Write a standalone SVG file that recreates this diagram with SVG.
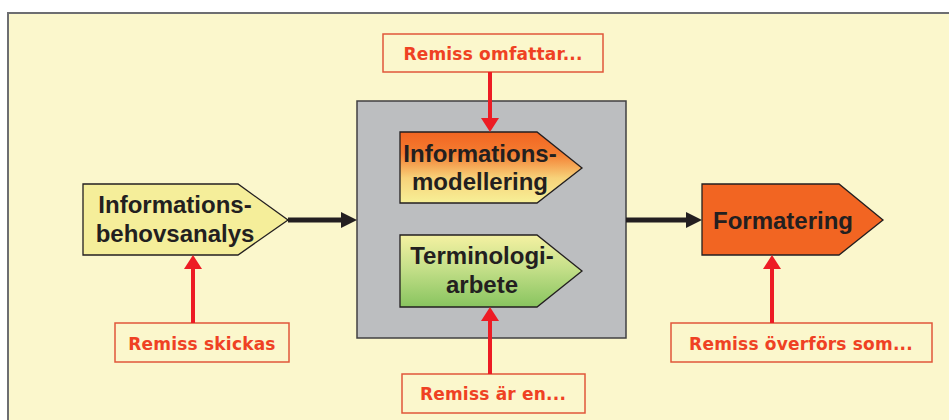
<svg xmlns="http://www.w3.org/2000/svg" width="949" height="420" viewBox="0 0 949 420">
<defs>
<linearGradient id="gOrange" x1="0" y1="0" x2="0" y2="1">
<stop offset="0" stop-color="#F26522"/>
<stop offset="0.3" stop-color="#F47C30"/>
<stop offset="0.65" stop-color="#F7D27A"/>
<stop offset="1" stop-color="#F7F097"/>
</linearGradient>
<linearGradient id="gGreen" x1="0" y1="0" x2="0" y2="1">
<stop offset="0" stop-color="#F5F1A2"/>
<stop offset="0.45" stop-color="#C6E08A"/>
<stop offset="1" stop-color="#88C45F"/>
</linearGradient>
<marker id="ahBlack" markerWidth="16" markerHeight="16" viewBox="0 0 16 16" refX="6" refY="8" orient="auto" markerUnits="userSpaceOnUse">
<path d="M0,0 L16,8 L0,16 Z" fill="#231F20"/>
</marker>
<marker id="ahRed" markerWidth="14" markerHeight="18" viewBox="0 0 14 18" refX="4" refY="9" orient="auto" markerUnits="userSpaceOnUse">
<path d="M0,0 L14,9 L0,18 Z" fill="#ED1C24"/>
</marker>
</defs>
<style>
.frame{fill:#FBF7CC;stroke:#6D6E71;stroke-width:2}
.proc{stroke:#231F20;stroke-width:1.3}
.main{font-family:"Liberation Sans",Arial,sans-serif;font-weight:bold;font-size:24px;fill:#231F20;text-anchor:middle}
.lbox{fill:#FBF7CC;stroke:#E1573A;stroke-width:1.5}
.ltext{font-family:"DejaVu Sans",sans-serif;font-weight:bold;font-size:17px;fill:#EF4123;text-anchor:middle;letter-spacing:0.2px}
.blk{stroke:#231F20;stroke-width:5;fill:none}
.red{stroke:#ED1C24;stroke-width:4;fill:none}
</style>
<rect class="frame" x="8" y="13" width="960" height="430"/>
<g id="container">
<rect x="357" y="101" width="269" height="237" fill="#BCBEC0" stroke="#414042" stroke-width="1.5"/>
</g>
<g id="n-behovsanalys">
<polygon class="proc" fill="#F5EE9A" points="83,184 238,184 288,220 238,255 83,255"/>
<text class="main" x="175" y="213">Informations-</text>
<text class="main" x="175" y="242">behovsanalys</text>
</g>
<g id="n-modellering">
<polygon class="proc" fill="url(#gOrange)" points="400,132 537,132 582,168 537,203 400,203"/>
<text class="main" x="480" y="162">Informations-</text>
<text class="main" x="480" y="190">modellering</text>
</g>
<g id="n-terminologi">
<polygon class="proc" fill="url(#gGreen)" points="400,235 537,235 582,271 537,307 400,307"/>
<text class="main" x="482" y="264">Terminologi-</text>
<text class="main" x="482" y="293">arbete</text>
</g>
<g id="n-formatering">
<polygon class="proc" fill="#F26522" points="702,184 839,184 883,220 839,255 702,255"/>
<text class="main" x="783" y="229">Formatering</text>
</g>
<g id="l-omfattar">
<rect class="lbox" x="383" y="34" width="220" height="38"/>
<text class="ltext" x="493" y="60">Remiss omfattar...</text>
</g>
<g id="l-skickas">
<rect class="lbox" x="115" y="323" width="174" height="39"/>
<text class="ltext" x="202" y="350">Remiss skickas</text>
</g>
<g id="l-aren">
<rect class="lbox" x="402" y="374" width="183" height="39"/>
<text class="ltext" x="493" y="400">Remiss är en...</text>
</g>
<g id="l-overfors">
<rect class="lbox" x="671" y="323" width="261" height="39"/>
<text class="ltext" x="801" y="350">Remiss överförs som...</text>
</g>
<g id="connectors">
<line class="blk" x1="288" y1="220" x2="347" y2="220" marker-end="url(#ahBlack)"/>
<line class="blk" x1="626" y1="220" x2="692" y2="220" marker-end="url(#ahBlack)"/>
<line class="red" x1="490" y1="72" x2="490" y2="122" marker-end="url(#ahRed)"/>
<line class="red" x1="490" y1="374" x2="490" y2="317" marker-end="url(#ahRed)"/>
<line class="red" x1="193" y1="323" x2="193" y2="265" marker-end="url(#ahRed)"/>
<line class="red" x1="772" y1="323" x2="772" y2="265" marker-end="url(#ahRed)"/>
</g>
</svg>
